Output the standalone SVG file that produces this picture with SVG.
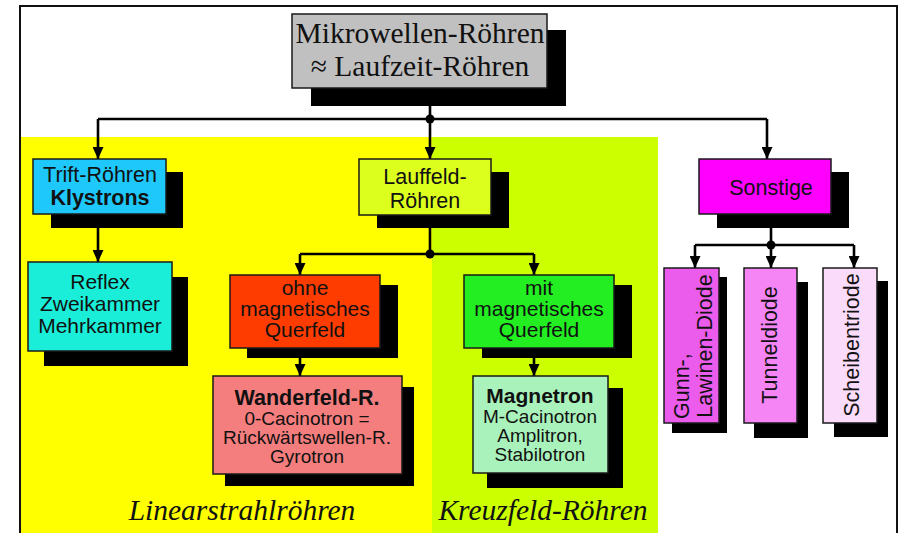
<svg xmlns="http://www.w3.org/2000/svg" width="899" height="533" viewBox="0 0 899 533">
  <style>
    .box { stroke: #1a1a1a; stroke-width: 1.5; }
    .shadow { fill: #000; }
    .t { font-family: "Liberation Sans", Arial, sans-serif; fill: #111; text-anchor: middle; }
    .b { font-weight: bold; }
    .serif { font-family: "Liberation Serif", "Times New Roman", serif; fill: #111; text-anchor: middle; }
    .conn { fill: none; stroke: #000; stroke-width: 2.6; }
  </style>
  <defs>
    <marker id="arrow" viewBox="0 0 12 11" refX="12" refY="5.5" markerWidth="12" markerHeight="11" markerUnits="userSpaceOnUse" orient="auto">
      <path d="M0,0 L12,5.5 L0,11 z" fill="#000"/>
    </marker>
  </defs>

  <!-- page and frame -->
  <rect x="0" y="0" width="899" height="533" fill="#fff"/>
  <rect x="20" y="6" width="877" height="540" fill="#fff" stroke="#111" stroke-width="2"/>

  <!-- background zones -->
  <rect x="21" y="137" width="411" height="396" fill="#ffff00"/>
  <rect x="432" y="137" width="226" height="396" fill="#ccff00"/>

  <text class="serif" x="242" y="520" font-size="29.5" font-style="italic">Linearstrahlröhren</text>
  <text class="serif" x="543" y="520" font-size="29.5" font-style="italic">Kreuzfeld-Röhren</text>

  <!-- connectors -->
  <g id="connectors">
    <path class="conn" d="M430,88 V119"/>
    <path class="conn" d="M98,119 H767"/>
    <path class="conn" d="M98,119 V159" marker-end="url(#arrow)"/>
    <path class="conn" d="M430,119 V159" marker-end="url(#arrow)"/>
    <path class="conn" d="M767,119 V159" marker-end="url(#arrow)"/>
    <circle cx="430" cy="119" r="4.5" fill="#000"/>

    <path class="conn" d="M98,228 V262" marker-end="url(#arrow)"/>

    <path class="conn" d="M430,215 V254"/>
    <path class="conn" d="M300,254 H534"/>
    <path class="conn" d="M300,254 V275" marker-end="url(#arrow)"/>
    <path class="conn" d="M534,254 V275" marker-end="url(#arrow)"/>
    <circle cx="430" cy="254" r="4.5" fill="#000"/>

    <path class="conn" d="M300,358 V376" marker-end="url(#arrow)"/>
    <path class="conn" d="M534,358 V376" marker-end="url(#arrow)"/>

    <path class="conn" d="M771,228 V245"/>
    <path class="conn" d="M695,245 H854"/>
    <path class="conn" d="M695,245 V268" marker-end="url(#arrow)"/>
    <path class="conn" d="M771,245 V268" marker-end="url(#arrow)"/>
    <path class="conn" d="M854,245 V268" marker-end="url(#arrow)"/>
    <circle cx="771" cy="245" r="4.5" fill="#000"/>
  </g>

  <!-- root -->
  <g id="mikrowellen">
    <rect class="shadow" x="311" y="30" width="255" height="76"/>
    <rect class="box" x="292" y="14" width="255" height="74" fill="#c0c0c0"/>
    <text class="serif" x="420" y="43" font-size="29.5">Mikrowellen-Röhren</text>
    <text class="serif" x="420" y="76" font-size="29.5">≈ Laufzeit-Röhren</text>
  </g>

  <g id="trift">
    <rect class="shadow" x="51" y="172" width="132" height="56"/>
    <rect class="box" x="33" y="159" width="133" height="55" fill="#1ec8fa"/>
    <text class="t" x="100" y="182" font-size="21.5">Trift-Röhren</text>
    <text class="t b" x="100" y="205" font-size="21.5">Klystrons</text>
  </g>

  <g id="reflex">
    <rect class="shadow" x="44" y="277" width="144" height="89"/>
    <rect class="box" x="28" y="262" width="144" height="89" fill="#1aeed8"/>
    <text class="t" x="100" y="289" font-size="21">Reflex</text>
    <text class="t" x="100" y="311" font-size="21">Zweikammer</text>
    <text class="t" x="100" y="333" font-size="21">Mehrkammer</text>
  </g>

  <g id="lauffeld">
    <rect class="shadow" x="377" y="172" width="132" height="56"/>
    <rect class="box" x="359" y="159" width="132" height="56" fill="#dcff1e"/>
    <text class="t" x="425" y="184" font-size="21.5">Lauffeld-</text>
    <text class="t" x="425" y="208" font-size="21.5">Röhren</text>
  </g>

  <g id="ohne">
    <rect class="shadow" x="247" y="285" width="151" height="73"/>
    <rect class="box" x="230" y="275" width="150" height="73" fill="#ff3c00"/>
    <text class="t" x="305" y="295" font-size="21">ohne</text>
    <text class="t" x="305" y="316" font-size="21">magnetisches</text>
    <text class="t" x="305" y="337" font-size="21">Querfeld</text>
  </g>

  <g id="mit">
    <rect class="shadow" x="482" y="285" width="150" height="73"/>
    <rect class="box" x="464" y="275" width="150" height="73" fill="#22ee22"/>
    <text class="t" x="539" y="295" font-size="21">mit</text>
    <text class="t" x="539" y="316" font-size="21">magnetisches</text>
    <text class="t" x="539" y="337" font-size="21">Querfeld</text>
  </g>

  <g id="wanderfeld">
    <rect class="shadow" x="225" y="387" width="189" height="99"/>
    <rect class="box" x="213" y="376" width="189" height="98" fill="#f47e7e"/>
    <text class="t b" x="307" y="405" font-size="21.5">Wanderfeld-R.</text>
    <text class="t" x="307" y="425" font-size="19">0-Cacinotron =</text>
    <text class="t" x="307" y="444" font-size="19">Rückwärtswellen-R.</text>
    <text class="t" x="307" y="463" font-size="19">Gyrotron</text>
  </g>

  <g id="magnetron">
    <rect class="shadow" x="487" y="388" width="136" height="100"/>
    <rect class="box" x="473" y="376" width="135" height="97" fill="#aaf2bc"/>
    <text class="t b" x="540" y="403" font-size="21">Magnetron</text>
    <text class="t" x="540" y="423" font-size="19">M-Cacinotron</text>
    <text class="t" x="540" y="442" font-size="19">Amplitron,</text>
    <text class="t" x="540" y="461" font-size="19">Stabilotron</text>
  </g>

  <g id="sonstige">
    <rect class="shadow" x="717" y="172" width="132" height="56"/>
    <rect class="box" x="699" y="159" width="132" height="55" fill="#ff00ff"/>
    <text class="t" x="771" y="195" font-size="21.5">Sonstige</text>
  </g>

  <g id="gunn">
    <rect class="shadow" x="672" y="277" width="55" height="156"/>
    <rect class="box" x="664" y="268" width="55" height="155" fill="#ec5cec"/>
    <text class="t" transform="translate(689,419) rotate(-90)" x="0" y="0" font-size="21.5" style="text-anchor:start">Gunn-,</text>
    <text class="t" transform="translate(712,346) rotate(-90)" x="0" y="0" font-size="21.5">Lawinen-Diode</text>
  </g>

  <g id="tunneldiode">
    <rect class="shadow" x="754" y="282" width="54" height="156"/>
    <rect class="box" x="744" y="268" width="53" height="155" fill="#f585f5"/>
    <text class="t" transform="translate(777,345) rotate(-90)" x="0" y="0" font-size="21.5">Tunneldiode</text>
  </g>

  <g id="scheibentriode">
    <rect class="shadow" x="834" y="281" width="54" height="156"/>
    <rect class="box" x="823" y="268" width="54" height="155" fill="#fadcfa"/>
    <text class="t" transform="translate(859,345) rotate(-90)" x="0" y="0" font-size="21.5">Scheibentriode</text>
  </g>
</svg>
